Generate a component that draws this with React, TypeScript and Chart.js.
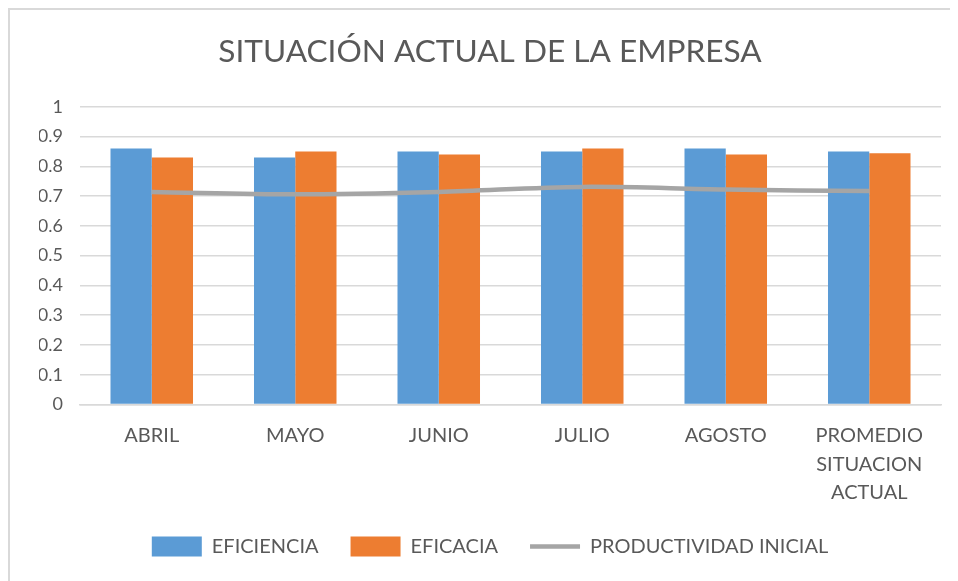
import React, { useEffect, useRef } from "react";
import { Chart, registerables } from "chart.js";

Chart.register(...registerables);

const categories: (string | string[])[] = ["ABRIL", "MAYO", "JUNIO", "JULIO", "AGOSTO", ["PROMEDIO", "SITUACION", "ACTUAL"]];
const eficiencia = [0.86, 0.83, 0.85, 0.85, 0.86, 0.85];
const eficacia = [0.83, 0.85, 0.84, 0.86, 0.84, 0.844];
const productividad = [0.714, 0.706, 0.714, 0.731, 0.722, 0.717];
const titleText = "SITUACIÓN ACTUAL DE LA EMPRESA";
const FONT = "Lato, 'Open Sans', sans-serif";
const TEXT = "#595959";

export default function App() {
  const ref = useRef<HTMLCanvasElement | null>(null);
  useEffect(() => {
    if (!ref.current) return;
    const chart = new Chart(ref.current, {
      type: "bar",
      data: {
        labels: categories,
        datasets: [
          {
            type: "bar",
            label: "EFICIENCIA",
            data: eficiencia,
            backgroundColor: "#5B9BD5",
            categoryPercentage: 0.575,
            barPercentage: 1,
            order: 1,
            pointStyle: "rect",
          } as any,
          {
            type: "bar",
            label: "EFICACIA",
            data: eficacia,
            backgroundColor: "#ED7D31",
            categoryPercentage: 0.575,
            barPercentage: 1,
            order: 2,
            pointStyle: "rect",
          } as any,
          {
            type: "line",
            label: "PRODUCTIVIDAD INICIAL",
            data: productividad,
            borderColor: "#A5A5A5",
            backgroundColor: "#A5A5A5",
            borderWidth: 4.5,
            pointRadius: 0,
            tension: 0.35,
            order: 0,
            pointStyle: "line",
          } as any,
        ],
      },
      options: {
        animation: false,
        responsive: false,
        devicePixelRatio: 1,
        layout: { padding: { left: 29, right: 17, top: 0, bottom: 63.5 } },
        plugins: {
          title: {
            display: true,
            text: titleText,
            color: TEXT,
            font: { family: FONT, size: 31.6, weight: "normal", lineHeight: 1.2 },
            padding: { top: 23, bottom: 35.9 },
          },
          legend: {
            position: "bottom",
            labels: {
              usePointStyle: true,
              pointStyleWidth: 50,
              boxHeight: 20,
              color: TEXT,
              font: { family: FONT, size: 20 },
              padding: 32,
              sort: (a: any, b: any) => a.datasetIndex - b.datasetIndex,
            },
          },
          tooltip: { enabled: false },
        },
        scales: {
          x: {
            afterFit: (s: any) => {
              s.height = 100;
            },
            grid: { display: false },
            border: { display: true, color: "#d9d9d9", width: 1.5 },
            ticks: {
              color: TEXT,
              font: { family: FONT, size: 20, lineHeight: 1.425 },
              padding: 9,
              maxRotation: 0,
              autoSkip: false,
            },
          },
          y: {
            min: 0,
            max: 1,
            afterFit: (s: any) => {
              s.width = 41;
            },
            grid: { color: "#d9d9d9", lineWidth: 1.5, drawTicks: false },
            border: { display: false },
            ticks: {
              stepSize: 0.1,
              color: TEXT,
              padding: 17,
              font: { family: FONT, size: 18 },
              callback: (v: any) => String(Math.round(Number(v) * 10) / 10),
            },
          },
        },
      },
    });
    return () => chart.destroy();
  }, []);
  return (
    <div
      style={{
        width: 950,
        height: 573,
        borderTop: "2px solid #d9d9d9",
        borderLeft: "2px solid #d9d9d9",
        boxSizing: "border-box",
        overflow: "hidden",
        background: "#fff",
      }}
    >
      <canvas ref={ref} width={948} height={620} style={{ display: "block" }} />
    </div>
  );
}
